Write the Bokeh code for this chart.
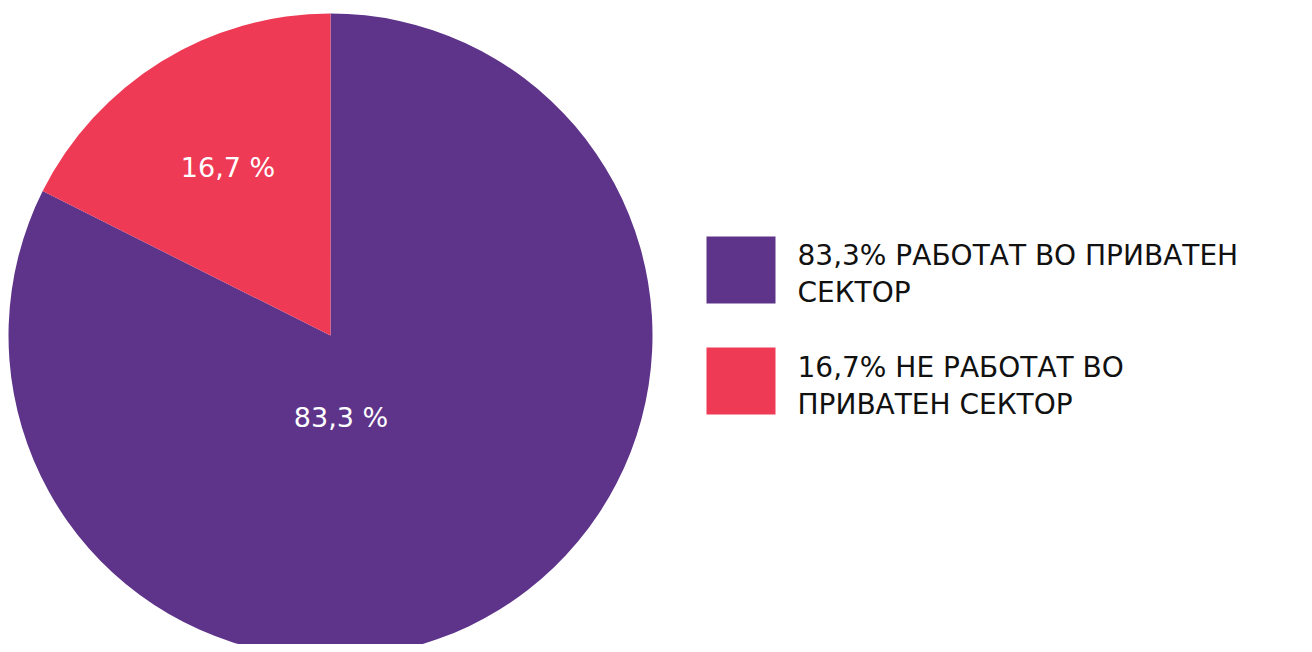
from bokeh.plotting import figure
from bokeh.models import Range1d
from bokeh.core.properties import value
from bokeh.embed import file_html
from bokeh.resources import INLINE
import numpy as np

categories = ["83,3% РАБОТАТ ВО ПРИВАТЕН СЕКТОР", "16,7% НЕ РАБОТАТ ВО ПРИВАТЕН СЕКТОР"]
legend_lines = [["83,3% РАБОТАТ ВО ПРИВАТЕН", "СЕКТОР"], ["16,7% НЕ РАБОТАТ ВО", "ПРИВАТЕН СЕКТОР"]]
# slice sizes as drawn in the picture (the red wedge spans ~63.5 degrees)
values = [82.4, 17.6]
slice_labels = ["83,3 %", "16,7 %"]
colors = ["#5E348B", "#EF3A55"]

W, H = 1296, 644
FONT = "DejaVu Sans"

p = figure(width=W, height=H, output_backend="svg", toolbar_location=None,
           x_range=Range1d(0, W), y_range=Range1d(0, H), min_border=0,
           outline_line_color=None)
p.axis.visible = False
p.grid.visible = False
p.background_fill_color = "white"
p.border_fill_color = "white"

cx, cy, r = 330, 309, 322
fr = np.array(values) / sum(values)
# purple clockwise from top, red counter-clockwise from top
start_angles = [np.pi / 2 + fr[1] * 2 * np.pi, np.pi / 2]
end_angles = [np.pi / 2 + 2 * np.pi, np.pi / 2 + fr[1] * 2 * np.pi]
for i in range(2):
    p.wedge(x=cx, y=cy, radius=r, start_angle=start_angles[i], end_angle=end_angles[i],
            fill_color=colors[i], line_color=None)

label_pos = [(340.5, 227), (227.5, 477)]
for (lx, ly), t in zip(label_pos, slice_labels):
    p.text(x=[lx], y=[ly], text=[t], text_color="white", text_font=value(FONT),
           text_font_size="27px", text_align="center", text_baseline="middle")

sq_y = [374.5, 263.5]
line_y = [[389, 352], [277, 240]]
for i in range(2):
    p.rect(x=[740.5], y=[sq_y[i]], width=69, height=67, fill_color=colors[i], line_color=None)
    for j, ln in enumerate(legend_lines[i]):
        p.text(x=[797], y=[line_y[i][j]], text=[ln], text_color="#111111", text_font=value(FONT),
               text_font_size="28px", text_align="left", text_baseline="middle")

open("out.html", "w").write(file_html(p, INLINE))
